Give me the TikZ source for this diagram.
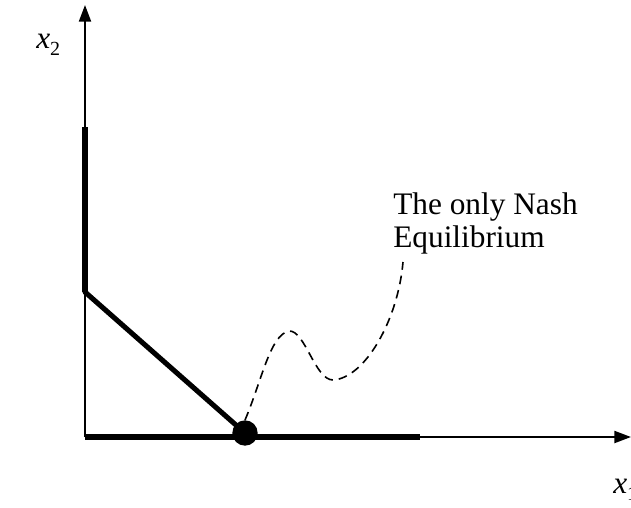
\documentclass[tikz,border=0pt]{standalone}
\usepackage{fontspec}
\setmainfont{Liberation Serif}
\usepackage{tikz}
\usetikzlibrary{arrows.meta,positioning}

\newcommand{\axlabel}[1]{\textit{x}\raisebox{-.45ex}{\fontsize{15}{15}\selectfont #1}}

\tikzset{
  axis/.style={line width=1.6pt, -{Triangle[length=12.5pt,width=9pt]}},
  best/.style={line width=3.8pt},
  lbl/.style={font=\fontsize{23.5}{25}\selectfont, inner sep=0pt},
}

\begin{document}
\begin{tikzpicture}[x=0.75pt,y=-0.75pt]
  \useasboundingbox (0,0) rectangle (631,507);
  % axes
  \coordinate (o) at (85,437);
  \coordinate (ytip) at (85,5);
  \coordinate (xtip) at (631,437);
  \draw[axis] (o) -- (ytip);
  \draw[axis] (o) -- (xtip);
  \node[lbl, anchor=west] (xtwo) at (36,45) {\axlabel{2}};
  \node[lbl, anchor=west] (xone) at (613,490) {\axlabel{1}};
  % best responses
  \coordinate (top) at (85,127);
  \coordinate (kink) at (85,292);
  \coordinate (xend) at (420,437);
  \node[circle, fill, inner sep=0pt, minimum size=19pt] (ne) at (245,433) {};
  \draw[best] (top) -- (kink);
  \draw[best, line cap=round] (kink) -- (ne.center);
  \draw[best] (o) -- (xend);
  % label
  \node[lbl, anchor=north west, align=left] (note) at (393,192) {The only Nash\\Equilibrium};
  \coordinate (tail) at (403,262);
  \draw[line width=1.2pt, dash pattern=on 6.5pt off 4.5pt]
    (ne.north) .. controls (262,380) and (270,335) .. (289,331)
    .. controls (305,330) and (315,380) .. (333,380)
    .. controls (365,378) and (398,320) .. (tail);
\end{tikzpicture}
\end{document}
